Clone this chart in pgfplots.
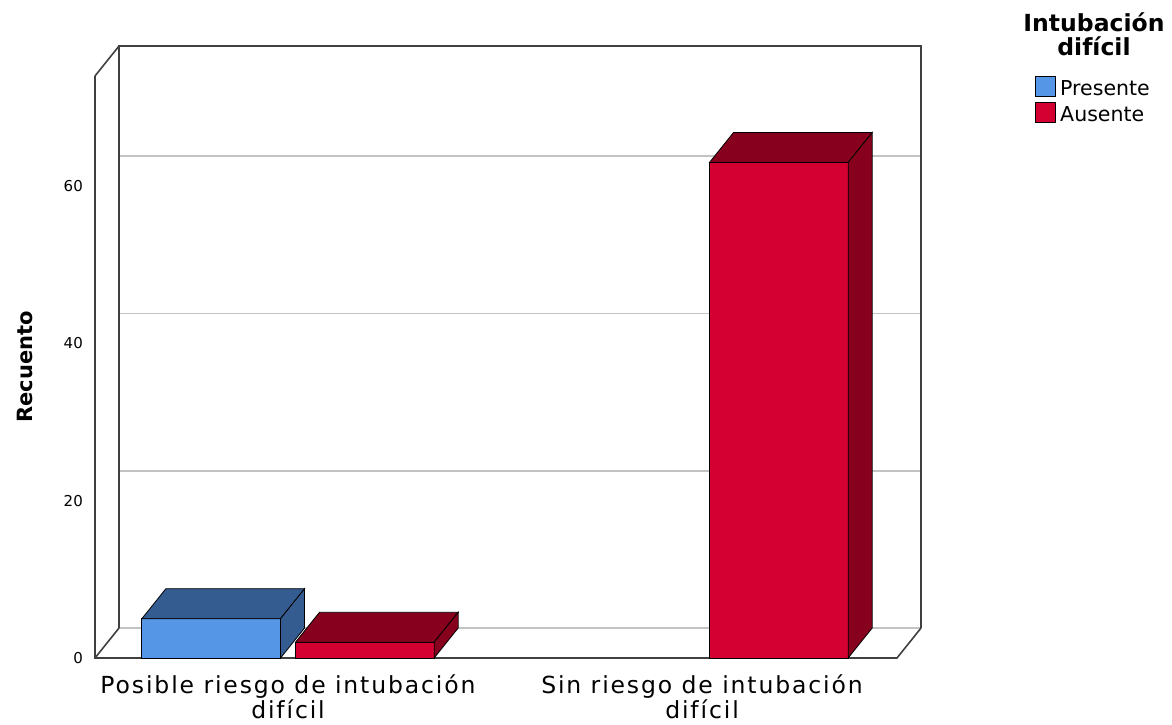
\documentclass[border=0pt]{standalone}
\usepackage{pgfplots}
\pgfplotsset{compat=1.18}
\usepackage{fontspec}
\setmainfont{DejaVu Sans}
\newfontfamily\catfont[LetterSpace=8]{DejaVu Sans}
\definecolor{pfront}{RGB}{85,150,230}
\definecolor{pdark}{RGB}{52,92,145}
\definecolor{afront}{RGB}{213,0,50}
\definecolor{adark}{RGB}{135,0,30}
\definecolor{framegray}{RGB}{64,64,64}
\definecolor{gridgray}{RGB}{195,195,195}
\begin{document}
\begin{tikzpicture}
\useasboundingbox (-95pt,-67pt) rectangle (1077pt,658pt);
\begin{axis}[
  at={(0,0)}, anchor=south west,
  scale only axis, width=802pt, height=582pt,
  xmin=0.5338, xmax=2.4710, ymin=0, ymax=74,
  clip=false,
  axis line style={draw=none},
  major tick length=0pt,
  ytick={0,20,40,60},
  xtick={1,2},
  xticklabels={Posible riesgo de intubación\\difícil, Sin riesgo de intubación\\difícil},
  /pgf/number format/assume math mode=true,
  yticklabel style={font=\fontsize{15}{16}\selectfont, inner sep=0pt, xshift=-12pt},
  xticklabel style={font=\catfont\fontsize{23.5}{22}\selectfont, align=center, inner sep=0pt, yshift=-17pt},
  ylabel={Recuento},
  ylabel style={font=\bfseries\fontsize{21}{24}\selectfont, at={(axis description cs:-0.0873,0.5)}, anchor=center},
  legend style={at={(axis description cs:1.1721,1.0000)}, anchor=north west, draw=none, fill=none,
    inner sep=0pt, row sep=1pt, font=\fontsize{20.5}{24}\selectfont,
    nodes={inner sep=0pt, text height=15pt, text depth=5pt}},
  legend cell align=left,
  legend image code/.code={\draw[#1] (0pt,-6pt) rectangle (20pt,14pt);},
]
% legend entries
\addlegendimage{fill=pfront, draw=black, line width=1pt}
\addlegendentry{\hspace{4pt}Presente}
\addlegendimage{fill=afront, draw=black, line width=1pt}
\addlegendentry{\hspace{4pt}Ausente}
% back wall gridlines (including floor back line)
\addplot[color=gridgray, line width=1.8pt, forget plot] coordinates {(0.5918,3.81) (2.5290,3.81)};
\addplot[color=gridgray, line width=1.8pt, forget plot] coordinates {(0.5918,23.81) (2.5290,23.81)};
\addplot[color=gridgray, line width=1.8pt, forget plot] coordinates {(0.5918,43.81) (2.5290,43.81)};
\addplot[color=gridgray, line width=1.8pt, forget plot] coordinates {(0.5918,63.81) (2.5290,63.81)};
% frame
\addplot[color=framegray, line width=1.6pt, forget plot] coordinates {(0.5918,3.81) (0.5918,77.81) (2.5290,77.81) (2.5290,3.81)};
\addplot[color=framegray, line width=1.6pt, forget plot] coordinates {(0.5338,74) (0.5918,77.81)};
\addplot[color=framegray, line width=1.6pt, forget plot] coordinates {(0.5338,0) (0.5918,3.81)};
\addplot[color=framegray, line width=1.6pt, forget plot] coordinates {(0.5338,74) (0.5338,0) (2.4710,0) (2.5290,3.81)};
% bar: Posible / Presente = 5
\addplot[fill=pfront, draw=black, line width=0.8pt, forget plot] coordinates {(0.647,0) (0.982,0) (0.982,5) (0.647,5)} --cycle;
\addplot[fill=pdark, draw=black, line width=0.8pt, forget plot] coordinates {(0.647,5) (0.982,5) (1.040,8.81) (0.705,8.81)} --cycle;
\addplot[fill=pdark, draw=black, line width=0.8pt, forget plot] coordinates {(0.982,0) (1.040,3.81) (1.040,8.81) (0.982,5)} --cycle;
% bar: Posible / Ausente = 2
\addplot[fill=afront, draw=black, line width=0.8pt, forget plot] coordinates {(1.018,0) (1.353,0) (1.353,2) (1.018,2)} --cycle;
\addplot[fill=adark, draw=black, line width=0.8pt, forget plot] coordinates {(1.018,2) (1.353,2) (1.411,5.81) (1.076,5.81)} --cycle;
\addplot[fill=adark, draw=black, line width=0.8pt, forget plot] coordinates {(1.353,0) (1.411,3.81) (1.411,5.81) (1.353,2)} --cycle;
% bar: Sin riesgo / Ausente = 63
\addplot[fill=afront, draw=black, line width=0.8pt, forget plot] coordinates {(2.018,0) (2.353,0) (2.353,63) (2.018,63)} --cycle;
\addplot[fill=adark, draw=black, line width=0.8pt, forget plot] coordinates {(2.018,63) (2.353,63) (2.411,66.81) (2.076,66.81)} --cycle;
\addplot[fill=adark, draw=black, line width=0.8pt, forget plot] coordinates {(2.353,0) (2.411,3.81) (2.411,66.81) (2.353,63)} --cycle;
\node[align=center, font=\bfseries\fontsize{23.5}{24}\selectfont] at (axis description cs:1.2456,1.0722) {Intubación\\difícil};
\end{axis}
\end{tikzpicture}
\end{document}
